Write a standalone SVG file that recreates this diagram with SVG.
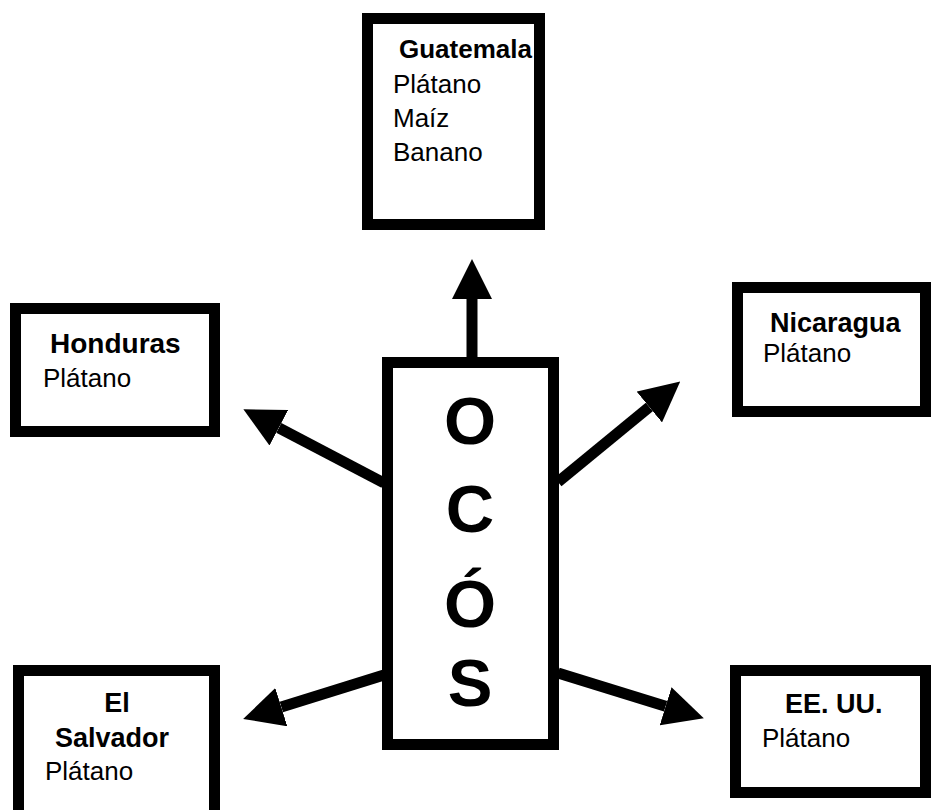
<svg xmlns="http://www.w3.org/2000/svg" width="931" height="810" viewBox="0 0 931 810">
<style>
.box{fill:#fff;stroke:#000;stroke-width:11}
.t{font-family:"Liberation Sans",Arial,sans-serif;font-size:26px;fill:#000}
.b{font-weight:bold;font-size:27px}
.big{font-family:"Liberation Sans",Arial,sans-serif;font-size:67px;font-weight:bold;text-anchor:middle;fill:#000}
.c{fill:none;stroke:#000;stroke-width:11;marker-end:url(#ah)}
</style>
<defs>
<marker id="ah" markerUnits="userSpaceOnUse" markerWidth="40" markerHeight="40" refX="0" refY="18" orient="auto" viewBox="0 0 36 36">
<path d="M0,0 L36,18 L0,36 z" fill="#000"/>
</marker>
</defs>
<rect width="931" height="810" fill="#fff"/>
<g id="connectors">
<line class="c" x1="472" y1="357" x2="472" y2="299"/>
<line class="c" x1="384" y1="483" x2="278.8" y2="427.8"/>
<line class="c" x1="558" y1="482" x2="649.3" y2="407"/>
<line class="c" x1="384" y1="675" x2="281.3" y2="707.1"/>
<line class="c" x1="558" y1="673" x2="665.6" y2="706.3"/>
</g>
<g id="guatemala">
<rect class="box" x="367.5" y="18.5" width="172" height="206"/>
<text class="t b" x="399" y="58" style="font-size:26px">Guatemala</text>
<text class="t" x="393" y="93">Plátano</text>
<text class="t" x="393" y="127">Maíz</text>
<text class="t" x="393" y="161">Banano</text>
</g>
<g id="honduras">
<rect class="box" x="15.5" y="308.5" width="199" height="123"/>
<text class="t b" x="50" y="353" style="font-size:28px">Honduras</text>
<text class="t" x="43" y="387">Plátano</text>
</g>
<g id="nicaragua">
<rect class="box" x="737.5" y="287.5" width="188" height="124"/>
<text class="t b" x="770" y="332">Nicaragua</text>
<text class="t" x="763" y="362">Plátano</text>
</g>
<g id="ocos">
<rect class="box" x="387.5" y="362.5" width="166" height="382"/>
<text class="big" x="470" y="444">O</text>
<text class="big" x="470" y="532">C</text>
<text class="big" x="470" y="627">Ó</text>
<text class="big" x="470" y="706">S</text>
</g>
<g id="elsalvador">
<rect class="box" x="18.5" y="670.5" width="196" height="150"/>
<text class="t b" x="117" y="712" text-anchor="middle">El</text>
<text class="t b" x="55" y="747">Salvador</text>
<text class="t" x="45" y="780">Plátano</text>
</g>
<g id="eeuu">
<rect class="box" x="735.5" y="670.5" width="190" height="122"/>
<text class="t b" x="785" y="713">EE. UU.</text>
<text class="t" x="762" y="747">Plátano</text>
</g>
</svg>
